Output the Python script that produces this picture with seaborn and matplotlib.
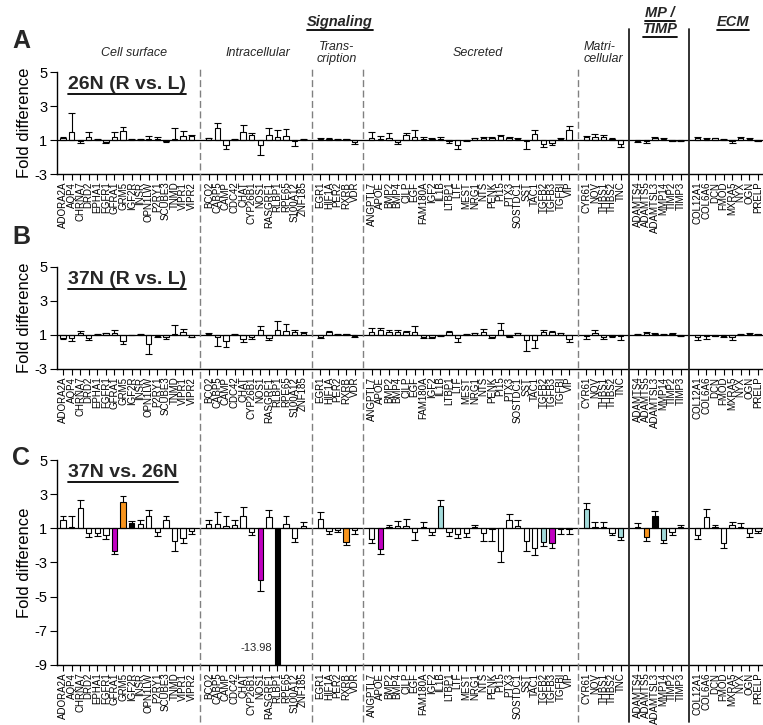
import numpy as np
import pandas as pd
import matplotlib
matplotlib.use('Agg')
import matplotlib.pyplot as plt
import matplotlib.lines as mlines
import matplotlib.transforms as mtransforms
import seaborn as sns

# ── style ──────────────────────────────────────────────
sns.set_theme(style="ticks")
plt.rcParams['font.family'] = ['Liberation Sans', 'DejaVu Sans']
plt.rcParams['axes.unicode_minus'] = False

# ── genes per functional group ─────────────────────────
CELL_SURFACE = ['ADORA2A', 'AQP4', 'CHRNA7', 'DRD2', 'EPHA1', 'FGFR1', 'GFRA1', 'GRM5',
                'IGF2R', 'INSR', 'OPN1LW', 'P2RY1', 'SCUBE3', 'TNMD', 'VIPR1', 'VIPR2']
INTRACELLULAR = ['BCO2', 'CABP5', 'CAMP', 'CDC42', 'CHAT', 'CYP26B1', 'NOS1', 'RASGRF1',
                 'RLBP1', 'RPE65', 'S100A12', 'ZNF185']
TRANSCRIPTION = ['EGR1', 'HIF1A', 'PER2', 'RXRB', 'VDR']
SECRETED = ['ANGPTL7', 'APOE', 'BMP2', 'BMP4', 'CILP', 'EGF', 'FAM180A', 'IGF2', 'IL1B',
            'LTBP1', 'LTF', 'MEST', 'NRG1', 'NTS', 'PENK', 'PI15', 'PTX3', 'SOSTDC1', 'SST',
            'TAC1', 'TGFB2', 'TGFB3', 'TGFBI', 'VIP']
MATRICELLULAR = ['CYR61', 'NOV', 'THBS1', 'THBS2', 'TNC']
MP_TIMP = ['ADAMTS4', 'ADAMTS5', 'ADAMTSL3', 'MMP14', 'TIMP2', 'TIMP3']
ECM = ['COL12A1', 'COL6A6', 'DCN', 'FMOD', 'MXRA5', 'NYX', 'OGN', 'PRELP']

GROUPS = [CELL_SURFACE, INTRACELLULAR, TRANSCRIPTION, SECRETED, MATRICELLULAR, MP_TIMP, ECM]
SEP_STYLES = ['dashed', 'dashed', 'dashed', 'dashed', 'solid', 'solid']

# ── panel A : 26N (R vs. L) ────────────────────────────
A_FOLD = [1.11, 1.47, -1.05, 1.17, 1.03, -1.10, 1.19, 1.55, 1.03, 1.03, 1.08, 1.08, -1.08, 1.03, 1.23, 1.23,
          1.10, 1.72, -1.30, 1.03, 1.50, 1.30, -1.27, 1.27, 1.17, 1.23, -1.05, 1.05,
          1.08, 1.08, 1.03, 1.06, -1.13,
          1.11, 1.05, 1.11, -1.11, 1.27, 1.15, 1.08, 1.05, 1.08, -1.08, -1.27, -1.02, 1.11, 1.11,
          1.11, 1.21, 1.11, 1.08, -1.03, 1.34, -1.23, -1.15, 1.08, 1.57,
          1.15, 1.19, 1.15, 1.05, -1.21,
          -1.05, -1.05, 1.11, 1.08, -1.05, -1.05,
          1.11, 1.08, 1.11, 1.03, -1.08, 1.11, 1.05, -1.05]
A_ERR = [0.08, 1.10, 0.12, 0.33, 0.05, 0.05, 0.31, 0.19, 0.00, 0.00, 0.15, 0.11, 0.03, 0.70, 0.30, 0.04,
         0.04, 0.27, 0.20, 0.05, 0.38, 0.12, 0.63, 0.42, 0.40, 0.42, 0.30, 0.03,
         0.03, 0.03, 0.00, 0.02, 0.08,
         0.35, 0.18, 0.29, 0.12, 0.15, 0.46, 0.11, 0.06, 0.09, 0.07, 0.23, 0.02, 0.01, 0.04,
         0.08, 0.11, 0.09, 0.06, 0.50, 0.25, 0.17, 0.15, 0.03, 0.23,
         0.08, 0.17, 0.12, 0.06, 0.19,
         0.06, 0.12, 0.08, 0.03, 0.02, 0.02,
         0.08, 0.05, 0.03, 0.05, 0.07, 0.08, 0.06, 0.03]

# ── panel B : 37N (R vs. L) ────────────────────────────
B_FOLD = [-1.15, -1.15, 1.13, -1.15, 1.03, 1.10, 1.13, -1.34, -1.02, 1.04, -1.51, -1.05, -1.13, 1.05, 1.17, -1.10,
          1.04, -1.13, -1.36, 1.04, -1.21, -1.13, 1.32, -1.17, 1.32, 1.25, 1.17, 1.13,
          -1.10, 1.17, 1.03, 1.05, -1.08,
          1.17, 1.29, 1.17, 1.17, 1.17, 1.17, -1.13, -1.13, -1.05, 1.17, -1.15, 1.03, 1.10, 1.17,
          -1.13, 1.29, -1.05, 1.10, -1.32, -1.32, 1.17, 1.17, 1.10, -1.25,
          -1.05, 1.10, -1.13, -1.05, -1.05,
          1.04, 1.10, 1.05, 1.03, 1.05, -1.04,
          -1.13, -1.05, -1.03, -1.05, -1.13, 1.04, 1.05, 1.04]
B_ERR = [0.06, 0.21, 0.12, 0.14, 0.00, 0.02, 0.16, 0.19, 0.00, 0.02, 0.61, 0.08, 0.08, 0.54, 0.19, 0.02,
         0.09, 0.54, 0.34, 0.00, 0.23, 0.08, 0.19, 0.12, 0.50, 0.38, 0.15, 0.02,
         0.07, 0.08, 0.00, 0.02, 0.05,
         0.27, 0.15, 0.15, 0.12, 0.08, 0.38, 0.03, 0.03, 0.02, 0.08, 0.29, 0.00, 0.03, 0.19,
         0.03, 0.41, 0.05, 0.03, 0.61, 0.46, 0.12, 0.08, 0.03, 0.15,
         0.16, 0.22, 0.12, 0.07, 0.24,
         0.02, 0.07, 0.04, 0.03, 0.07, 0.02,
         0.19, 0.16, 0.00, 0.06, 0.16, 0.02, 0.04, 0.04]

# ── panel C : 37N vs. 26N ──────────────────────────────
C_FOLD = [1.47, 1.10, 2.18, -1.25, -1.30, -1.40, -2.30, 2.53, 1.30, 1.25, 1.75, -1.20, 1.50, -1.75, -1.57, -1.17,
          1.25, 1.27, 1.15, 1.22, 1.75, -1.20, -4.05, 1.65, -13.98, 1.27, -1.57, 1.13,
          1.53, -1.15, -1.10, -1.80, -1.10,
          -1.60, -2.20, 1.05, 1.14, 1.14, -1.23, 1.10, -1.23, 2.33, -1.23, -1.32, -1.29, 1.06, -1.29,
          -1.05, -2.33, 1.49, 1.14, -1.76, -2.14, -1.82, -1.86, -1.05, -1.05,
          2.14, 1.05, 1.05, -1.25, -1.48,
          1.05, -1.53, 1.75, -1.67, -1.19, 1.10,
          -1.38, 1.69, 1.05, -1.86, 1.20, 1.05, -1.29, -1.13]
C_ERR = [0.23, 0.60, 0.47, 0.25, 0.15, 0.25, 0.20, 0.35, 0.15, 0.25, 0.35, 0.25, 0.25, 0.55, 0.28, 0.18,
         0.22, 0.66, 0.55, 0.25, 0.48, 0.20, 0.60, 0.40, 0.00, 0.47, 0.23, 0.22,
         0.42, 0.20, 0.10, 0.17, 0.25,
         0.27, 0.30, 0.15, 0.26, 0.41, 0.47, 0.25, 0.15, 0.34, 0.19, 0.25, 0.24, 0.14, 0.43,
         0.67, 0.63, 0.33, 0.35, 0.57, 0.42, 0.23, 0.28, 0.27, 0.27,
         0.33, 0.34, 0.34, 0.13, 0.22,
         0.25, 0.19, 0.27, 0.19, 0.19, 0.10,
         0.23, 0.43, 0.15, 0.32, 0.19, 0.25, 0.19, 0.12]
C_HIGHLIGHT = {'GFRA1': 'magenta', 'GRM5': 'orange', 'IGF2R': 'black', 'NOS1': 'magenta',
               'RLBP1': 'black', 'RXRB': 'orange', 'APOE': 'magenta', 'IL1B': 'cyan',
               'TGFB2': 'cyan', 'TGFB3': 'magenta', 'CYR61': 'cyan', 'TNC': 'cyan',
               'ADAMTS5': 'orange', 'ADAMTSL3': 'black', 'MMP14': 'cyan'}

PALETTE = {'none': 'white', 'magenta': '#c000c0', 'orange': '#f7941d',
           'cyan': '#a3dbdb', 'black': 'black'}

# ── slot positions (one empty slot between groups) ─────
genes, pos, seps = [], [], []
slot = 0
for i, grp in enumerate(GROUPS):
    for g in grp:
        genes.append(g)
        pos.append(slot)
        slot += 1
    if i < len(GROUPS) - 1:
        seps.append(slot)
        slot += 1
pos = np.array(pos)


# fold-difference axis: nothing lives between -1 and 1, so collapse that gap
def fwd(v):
    v = np.asarray(v, dtype=float)
    return np.where(v >= 1, v - 1, np.where(v <= -1, v + 1, 0.0))


def inv(p):
    p = np.asarray(p, dtype=float)
    return np.where(p >= 0, p + 1, p - 1)


W, H = 763, 725
fig = plt.figure(figsize=(W / 100, H / 100), dpi=100)


def px_box(top, bottom, left=57, right=763):
    return [left / W, 1 - bottom / H, (right - left) / W, (bottom - top) / H]


def draw_panel(ax, fold, err, colors, ylo, title, title_y):
    df = pd.DataFrame({'gene': genes, 'pos': pos, 'fold': fold, 'color': colors})
    ax.set_yscale('function', functions=(fwd, inv))
    sns.barplot(data=df, x='pos', y='fold', hue='color', palette=PALETTE,
                native_scale=True, dodge=False, width=0.62, saturation=1,
                edgecolor='black', linewidth=0.8, errorbar=None, legend=False, ax=ax)
    fold = np.array(fold)
    tips = fold + np.sign(fold) * np.array(err)
    ax.vlines(pos, fold, tips, color='black', lw=0.8)
    ax.hlines(tips, pos - 0.4, pos + 0.4, color='black', lw=0.8)
    ax.axhline(1, color='black', lw=0.9)

    yticks = [t for t in [5, 3, 1, -3, -5, -7, -9] if t >= ylo]
    ax.set_ylim(ylo, 5)
    ax.set_yticks(yticks, labels=[str(t) for t in yticks])
    ax.set_xlim(-0.7, pos[-1] + 0.6)
    ax.set_xticks(pos, labels=genes, rotation=90, fontsize=7)
    ax.set_xlabel('')
    ax.set_ylabel('Fold difference', fontsize=12, color='black')
    ax.yaxis.set_label_coords(-0.036, 0.5)
    ax.tick_params(axis='x', length=4, width=0.8, pad=1.5, colors='black')
    ax.tick_params(axis='y', length=5, width=0.8, pad=2, labelsize=10.5, colors='black')
    sns.despine(ax=ax)
    for sp in ['left', 'bottom']:
        ax.spines[sp].set_linewidth(1.0)
        ax.spines[sp].set_color('black')
    t = ax.text(0.016, title_y, title, transform=ax.transAxes, fontsize=14,
                fontweight='bold', va='center', ha='left')
    return t


axA = fig.add_axes(px_box(72, 174))
axB = fig.add_axes(px_box(267, 369))
axC = fig.add_axes(px_box(460, 665))

underlined = []
underlined.append(draw_panel(axA, A_FOLD, A_ERR, ['none'] * len(genes), -3, '26N (R vs. L)', 0.873))
underlined.append(draw_panel(axB, B_FOLD, B_ERR, ['none'] * len(genes), -3, '37N (R vs. L)', 0.873))
underlined.append(draw_panel(axC, C_FOLD, C_ERR, [C_HIGHLIGHT.get(g, 'none') for g in genes],
                             -9, '37N vs. 26N', 0.937))

# value label for the bar that runs off the axis
rl = genes.index('RLBP1')
axC.text(pos[rl] - 0.6, -8.0, f"{C_FOLD[rl]:.2f}", ha='right', va='center', fontsize=8)

# panel letters
for letter, ypx in [('A', 41), ('B', 237), ('C', 458)]:
    fig.text(12 / W, 1 - ypx / H, letter, fontsize=18, fontweight='bold', va='center', ha='left')

# group separators spanning all three panels
blend = mtransforms.blended_transform_factory(axC.transData, fig.transFigure)
for s, style in zip(seps, SEP_STYLES):
    if style == 'dashed':
        ln = mlines.Line2D([s, s], [1 - 722 / H, 1 - 67 / H], transform=blend,
                           color='#808080', lw=1.0, linestyle=(0, (5, 2.5)))
    else:
        ln = mlines.Line2D([s, s], [1 - 722 / H, 1 - 29 / H], transform=blend,
                           color='#222222', lw=1.3)
    fig.add_artist(ln)

# headers
for txt, xpx, ypx in [('Signaling', 340, 22), ('MP /', 660, 13), ('TIMP', 660, 29), ('ECM', 733, 22)]:
    underlined.append(fig.text(xpx / W, 1 - ypx / H, txt, fontsize=10.5, fontweight='bold',
                               style='italic', ha='center', va='center'))

for txt, xpx, ypx, ha in [('Cell surface', 134, 53, 'center'), ('Intracellular', 258, 53, 'center'),
                          ('Trans-\ncription', 337, 53, 'center'), ('Secreted', 478, 53, 'center'),
                          ('Matri-\ncellular', 584, 53, 'left')]:
    fig.text(xpx / W, 1 - ypx / H, txt, fontsize=9, style='italic', ha=ha, va='center',
             multialignment='center' if ha == 'center' else 'left', linespacing=1.1)

# underline the bold titles
fig.canvas.draw()
renderer = fig.canvas.get_renderer()
inv_fig = fig.transFigure.inverted()
for t in underlined:
    bb = t.get_window_extent(renderer)
    (x0, y0), (x1, _) = inv_fig.transform([(bb.x0, bb.y0 - 1), (bb.x1, bb.y0 - 1)])
    fig.add_artist(mlines.Line2D([x0, x1], [y0, y0], transform=fig.transFigure,
                                 color='black', lw=1.3))

fig.savefig('out.png', dpi=100)
